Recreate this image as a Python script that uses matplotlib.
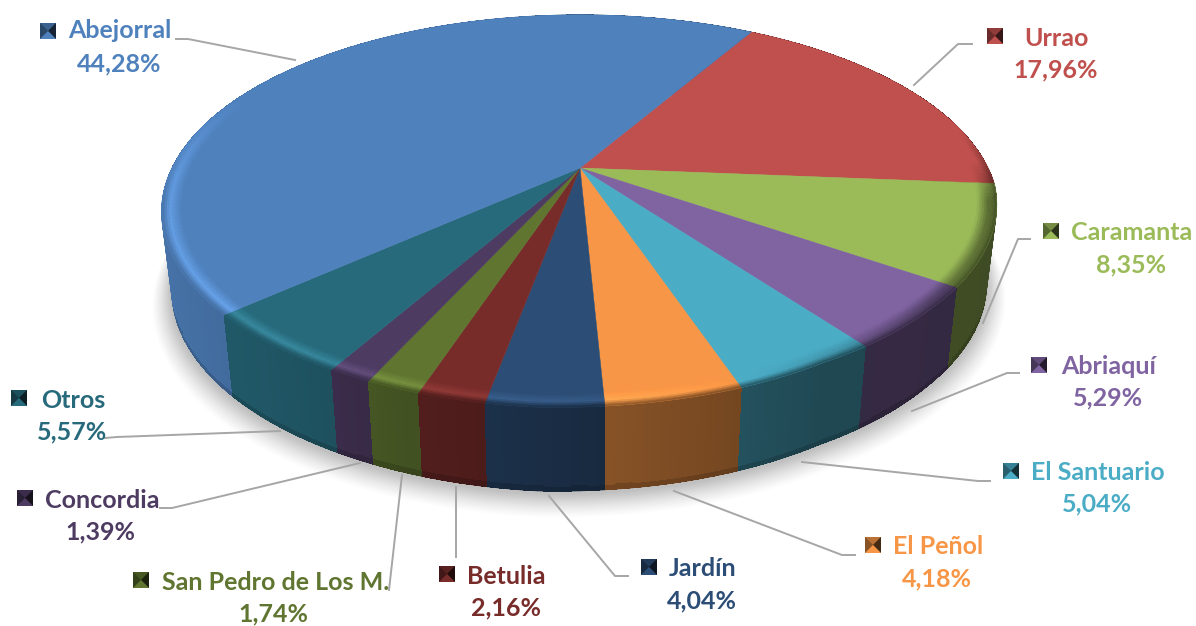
import numpy as np
import matplotlib
matplotlib.use("Agg")
import matplotlib.pyplot as plt
from matplotlib.collections import PolyCollection

# data, clockwise from the Urrao slice
names = ["Urrao", "Caramanta", "Abriaquí", "El Santuario", "El Peñol", "Jardín",
         "Betulia", "San Pedro de Los M.", "Concordia", "Otros", "Abejorral"]
values = [17.96, 8.35, 5.29, 5.04, 4.18, 4.04, 2.16, 1.74, 1.39, 5.57, 44.28]
colors = ["#C0504D", "#9BBB59", "#8064A2", "#4BACC6", "#F79646", "#2C4D75",
          "#772C2A", "#5F7530", "#4D3B62", "#276A7C", "#4F81BD"]

# label layout in pixels: key centre, name left, name y, percent centre x, percent y
key_xy = [(995, 36), (1051, 231), (1039, 365), (1011, 471), (873, 545), (649, 567),
          (447, 574), (141, 580), (25, 498), (19, 398), (48, 31)]
name_xy = [(1024, 38), (1071, 233), (1061, 366), (1031, 472), (893, 546), (669, 568),
           (467, 576), (162, 582), (45, 500), (41, 400), (68, 31)]
pct_xy = [(1056, 70), (1131, 265), (1108, 398), (1097, 504), (937, 579), (702, 601),
          (506, 608), (273, 614), (100, 532), (72, 432), (119, 64)]
leaders = [[(972, 44), (958, 44), (914, 85)],
           [(1030, 239), (1018, 239), (983, 323)],
           [(1019, 373), (1007, 373), (912, 411)],
           [(990, 481), (978, 481), (802, 462)],
           [(855, 555), (842, 555), (674, 491)],
           [(628, 576), (615, 576), (549, 496)],
           [(456, 557), (456, 487)],
           [(389, 590), (402, 475)],
           [(160, 508), (172, 508), (360, 463)],
           [(105, 438), (117, 437), (280, 431)],
           [(176, 39), (188, 39), (295, 60)]]

# settings for the tilted pie
startAngle = 30.0
cx = 580.0
cyTop, cyBottom = 168.0, 246.0
rxTop, rxBottom = 408.0, 398.0
ryTop, ryBottom = 187.0, 191.5
persp = 0.2214
bevel = 0.955


def warp(angle):
    # the reference's 3D view squeezes the angles a bit around the front left
    return np.interp(np.mod(angle, 360), [0, 30, 94, 150, 162, 177, 191.5, 210.5, 230.6, 300, 360],
                     [0, 30, 94, 150, 161.5, 177.3, 190.5, 209.4, 228, 300, 360])


def project(angle, radius, rx, ry, cy):
    # angle in degrees clockwise from the back of the pie
    ang = np.asarray(angle) % 360
    squeeze = np.interp(ang, [0, 95, 130, 150, 185, 230, 360], [1, 1, 0.98, 0.975, 1, 1, 1])
    a = np.radians(warp(ang))
    c = radius * squeeze * np.sin(a)
    s = -radius * squeeze * np.cos(a)
    w = 1 - persp * s
    return cx + rx * c / w, cy + ry * s / w


def wall_shade(angle):
    c = np.sin(np.radians(angle))
    return np.interp(c, [-1, -0.6, 0, 0.5, 1], [0.90, 0.80, 0.56, 0.42, 0.40])


def rim_light(angle):
    return np.interp(angle, [0, 88, 100, 130, 160, 180, 220, 270, 295, 360],
                     [0, 0, -0.45, -0.35, 0, 0.12, 0.22, 0.15, 0, 0])


def lit(rgb, light):
    rgb = np.array(rgb)
    if light >= 0:
        return np.clip(rgb * (1 + light) + 0.18 * light, 0, 1)
    return rgb * (1 + light)


fig = plt.figure(figsize=(11.96, 6.26), dpi=100)
ax = fig.add_axes([0, 0, 1, 1])
ax.set_xlim(0, 1196)
ax.set_ylim(626, 0)
ax.axis("off")

fractions = np.array(values) / sum(values)
edges = startAngle + 360 * np.concatenate([[0], np.cumsum(fractions)])

# soft shadow under the pie
ring = np.linspace(0, 360, 361)
for i in range(14):
    grow = 1 + (14 - i) * 0.0032
    sx, sy = project(ring, grow, rxBottom, ryBottom, cyBottom + 2 + (14 - i) * 0.7)
    ax.fill(sx, sy, color="black", alpha=0.012 + i * 0.001, lw=0, zorder=1)

# side wall, one filled outline per slice with small shaded columns on top
polys, facecols, depth = [], [], []
heights = [0, 0.94, 1]
for i in range(len(values)):
    rgb = matplotlib.colors.to_rgb(colors[i])
    steps = max(int((edges[i + 1] - edges[i]) / 1.0), 2)
    ang = np.linspace(edges[i], edges[i + 1], steps + 1)
    for a0, a1 in zip(ang[:-1], ang[1:]):
        mid = (a0 + a1) / 2
        xt0, yt0 = project(a0, 1, rxTop, ryTop, cyTop)
        xt1, yt1 = project(a1, 1, rxTop, ryTop, cyTop)
        xb0, yb0 = project(a0, 1, rxBottom, ryBottom, cyBottom)
        xb1, yb1 = project(a1, 1, rxBottom, ryBottom, cyBottom)
        for h0, h1 in zip(heights[:-1], heights[1:]):
            polys.append([(xt0 + (xb0 - xt0) * h0, yt0 + (yb0 - yt0) * h0),
                          (xt1 + (xb1 - xt1) * h0, yt1 + (yb1 - yt1) * h0),
                          (xt1 + (xb1 - xt1) * h1, yt1 + (yb1 - yt1) * h1),
                          (xt0 + (xb0 - xt0) * h1, yt0 + (yb0 - yt0) * h1)])
            shade = wall_shade(warp(mid))
            if h1 == 1:
                shade *= 0.85
            facecols.append(np.array(rgb) * shade)
            depth.append(-np.cos(np.radians(mid)))
order = np.argsort(depth)
wallCols = [facecols[j] for j in order]
# first pass softens the outline, second one without smoothing closes the seams
ax.add_collection(PolyCollection([polys[j] for j in order], facecolors=wallCols,
                                 edgecolors=wallCols, linewidths=0.6, zorder=2))
ax.add_collection(PolyCollection([polys[j] for j in order], facecolors=wallCols,
                                 edgecolors="none", antialiaseds=False, zorder=2.1))

# top face
for i in range(len(values)):
    ang = np.linspace(edges[i], edges[i + 1], 200)
    tx, ty = project(ang, 1, rxTop, ryTop, cyTop)
    ax.fill(np.r_[cx, tx], np.r_[cyTop, ty], color=colors[i], lw=0.3, zorder=3)

# bevel along the rim
polys, facecols = [], []
bands = np.linspace(bevel, 1, 9)
for i in range(len(values)):
    rgb = matplotlib.colors.to_rgb(colors[i])
    steps = max(int((edges[i + 1] - edges[i]) / 1.0), 2)
    ang = np.linspace(edges[i], edges[i + 1], steps + 1)
    for a0, a1 in zip(ang[:-1], ang[1:]):
        mid = (a0 + a1) / 2
        light = rim_light(mid % 360)
        front = np.interp(-np.cos(np.radians(mid)), [-0.2, 0.15], [0, 1])
        for r0, r1 in zip(bands[:-1], bands[1:]):
            u = ((r0 + r1) / 2 - bevel) / (1 - bevel)
            col = lit(rgb, light * np.interp(u, [0, 0.6, 1], [0, 1, 0.5]))
            dark = np.array(rgb) * wall_shade(mid % 360)
            mix = front * np.interp(u, [0.6, 1], [0, 1])
            col = col * (1 - mix) + dark * mix
            x0, y0 = project(a0, r0, rxTop, ryTop, cyTop)
            x1, y1 = project(a1, r0, rxTop, ryTop, cyTop)
            x2, y2 = project(a1, r1, rxTop, ryTop, cyTop)
            x3, y3 = project(a0, r1, rxTop, ryTop, cyTop)
            polys.append([(x0, y0), (x1, y1), (x2, y2), (x3, y3)])
            facecols.append(col)
ax.add_collection(PolyCollection(polys, facecolors=facecols, edgecolors=facecols,
                                 linewidths=0.3, zorder=4))

# leader lines
for pts in leaders:
    ax.plot([p[0] for p in pts], [p[1] for p in pts], color="#A6A6A6", lw=1.4, zorder=5,
            solid_joinstyle="round")

# labels with the little pyramid keys
keySize = 8
for i in range(len(values)):
    rgb = np.array(matplotlib.colors.to_rgb(colors[i]))
    kx, ky = key_xy[i]
    d = keySize
    ax.fill([kx - d, kx + d, kx + d, kx - d], [ky - d, ky - d, ky + d, ky + d], color=rgb * 0.6, lw=0, zorder=5.5)
    ax.fill([kx - d, kx + d, kx], [ky - d, ky - d, ky], color=rgb * 0.75, lw=0, zorder=6)
    ax.fill([kx - d, kx, kx - d], [ky - d, ky, ky + d], color=rgb * 0.55, lw=0, zorder=6)
    ax.fill([kx + d, kx, kx + d], [ky - d, ky, ky + d], color=rgb * 0.28, lw=0, zorder=6)
    ax.fill([kx - d, kx + d, kx], [ky + d, ky + d, ky], color=rgb, lw=0, zorder=6)
    ax.text(name_xy[i][0], name_xy[i][1], names[i], color=colors[i], family="Lato",
            weight="bold", fontsize=18, ha="left", va="center", zorder=7)
    ax.text(pct_xy[i][0], pct_xy[i][1], f"{values[i]:.2f}%".replace(".", ","), color=colors[i],
            family="Lato", weight="bold", fontsize=18, ha="center", va="center", zorder=7)

fig.savefig("out.png", dpi=100)
